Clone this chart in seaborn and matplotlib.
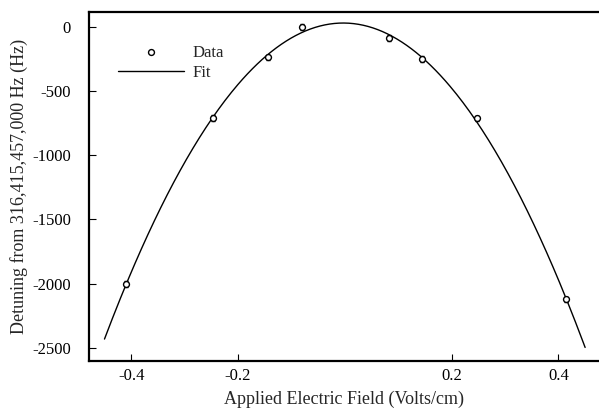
import numpy as np
import pandas as pd
import matplotlib
matplotlib.use("Agg")
import matplotlib.pyplot as plt
import seaborn as sns

field = [-0.410, -0.246, -0.143, -0.081, 0.083, 0.145, 0.248, 0.414]
detuning = [-2002, -712, -240, -5, -88, -250, -715, -2122]
err = [22, 22, 22, 22, 22, 22, 22, 22]

df = pd.DataFrame({"field": field, "detuning": detuning, "err": err})

# quadratic fit to the data
coef = np.polyfit(df["field"], df["detuning"], 2)
x_fit = np.linspace(-0.45, 0.45, 300)
fit = pd.DataFrame({"field": x_fit, "detuning": np.polyval(coef, x_fit)})

sns.set_style("ticks")
plt.rcParams["font.family"] = ["Liberation Serif", "DejaVu Serif"]
plt.rcParams["axes.unicode_minus"] = False

fig = plt.figure(figsize=(5.99, 4.11), dpi=100)
ax = fig.add_axes([89 / 599, 50 / 411, 510 / 599, 349 / 411])

ax.errorbar(df["field"], df["detuning"], yerr=df["err"], fmt="none",
            ecolor="black", elinewidth=0.8, capsize=1.5, zorder=2)
sns.scatterplot(data=df, x="field", y="detuning", ax=ax, marker="o",
                s=18, facecolor="white", edgecolor="black", linewidth=1.0,
                label="Data", zorder=3)
sns.lineplot(data=fit, x="field", y="detuning", ax=ax, color="black",
             linewidth=1.0, label="Fit", zorder=2)

ax.set_xlim(-0.479, 0.476)
ax.set_ylim(-2601, 113)
ax.set_xticks([-0.4, -0.2, 0.2, 0.4])
ax.set_xticklabels(["-0.4", "-0.2", "0.2", "0.4"])
ax.set_yticks([0, -500, -1000, -1500, -2000, -2500])
ax.set_yticklabels(["0", "-500", "-1000", "-1500", "-2000", "-2500"])
ax.tick_params(direction="in", length=5, width=0.8, labelsize=12,
               colors="black")
ax.tick_params(axis="x", pad=5)
ax.tick_params(axis="y", pad=13)

for s in ["left", "top", "bottom"]:
    ax.spines[s].set_linewidth(1.6)
    ax.spines[s].set_color("black")
ax.spines["right"].set_visible(False)

ax.set_xlabel("Applied Electric Field (Volts/cm)", fontsize=13, labelpad=5)
ax.set_ylabel("Detuning from 316,415,457,000 Hz (Hz)", fontsize=13, labelpad=3)

ax.legend(loc="upper left", bbox_to_anchor=(0.057, 0.906), frameon=False,
          fontsize=12, handlelength=3.95, handletextpad=0.5, labelspacing=0.25,
          borderpad=0, borderaxespad=0)

fig.savefig("out.png", dpi=100)
